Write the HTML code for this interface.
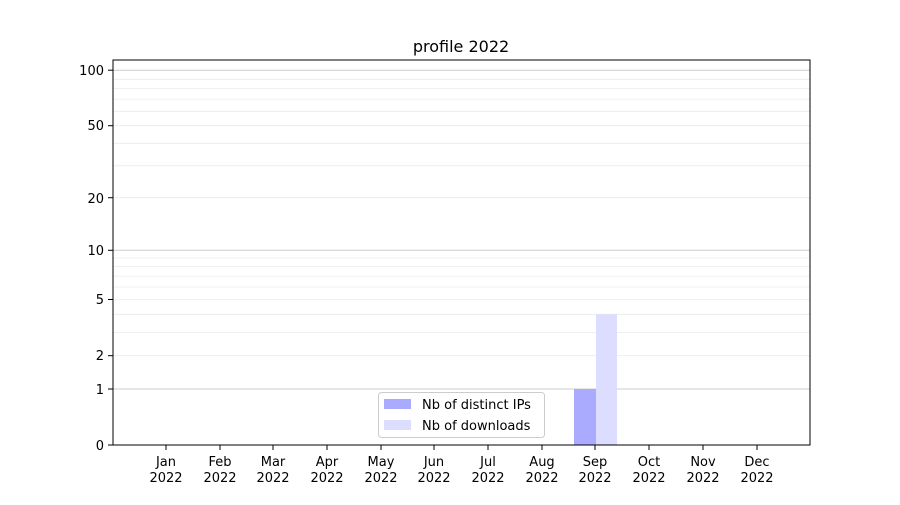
<!DOCTYPE html>
<html><head><meta charset="utf-8"><style>
body{margin:0;background:#fff}
svg text{font-family:"DejaVu Sans","Liberation Sans",sans-serif;font-size:13px;fill:#000}
</style></head><body>
<svg width="900" height="500" xmlns="http://www.w3.org/2000/svg">
<rect width="900" height="500" fill="#fff"/>
<g stroke="#ebebeb" stroke-width="0.8">
<line x1="113" x2="810" y1="355.7" y2="355.7"/>
<line x1="113" x2="810" y1="332.4" y2="332.4"/>
<line x1="113" x2="810" y1="314.3" y2="314.3"/>
<line x1="113" x2="810" y1="299.5" y2="299.5"/>
<line x1="113" x2="810" y1="287.0" y2="287.0"/>
<line x1="113" x2="810" y1="276.1" y2="276.1"/>
<line x1="113" x2="810" y1="266.6" y2="266.6"/>
<line x1="113" x2="810" y1="258.0" y2="258.0"/>
<line x1="113" x2="810" y1="197.7" y2="197.7"/>
<line x1="113" x2="810" y1="165.8" y2="165.8"/>
<line x1="113" x2="810" y1="143.3" y2="143.3"/>
<line x1="113" x2="810" y1="125.7" y2="125.7"/>
<line x1="113" x2="810" y1="111.3" y2="111.3"/>
<line x1="113" x2="810" y1="99.1" y2="99.1"/>
<line x1="113" x2="810" y1="88.6" y2="88.6"/>
<line x1="113" x2="810" y1="79.3" y2="79.3"/>
</g>
<g stroke="#cccccc" stroke-width="1">
<line x1="113" x2="810" y1="389" y2="389"/>
<line x1="113" x2="810" y1="250.3" y2="250.3"/>
<line x1="113" x2="810" y1="70.2" y2="70.2"/>
</g>
<rect x="574" y="389" width="22" height="56" fill="#aaaaff"/>
<rect x="596" y="314.3" width="21" height="130.7" fill="#ddddff"/>
<rect x="113" y="60" width="697" height="385" fill="none" stroke="#000" stroke-width="1"/>
<g stroke="#000">
<line x1="108" x2="113" y1="445" y2="445"/><line x1="108" x2="113" y1="389" y2="389"/>
<line x1="108" x2="113" y1="355.7" y2="355.7"/><line x1="108" x2="113" y1="299.5" y2="299.5"/>
<line x1="108" x2="113" y1="250.3" y2="250.3"/><line x1="108" x2="113" y1="197.7" y2="197.7"/>
<line x1="108" x2="113" y1="125.7" y2="125.7"/><line x1="108" x2="113" y1="70.2" y2="70.2"/>
</g>
<g text-anchor="end">
<text x="104" y="450">0</text><text x="104" y="394">1</text><text x="104" y="360">2</text>
<text x="104" y="304">5</text><text x="104" y="255">10</text><text x="104" y="203">20</text>
<text x="104" y="130">50</text><text x="104" y="75">100</text>
</g>
<g stroke="#000">
<line x1="166" x2="166" y1="445" y2="450"/><line x1="220" x2="220" y1="445" y2="450"/>
<line x1="273" x2="273" y1="445" y2="450"/><line x1="327" x2="327" y1="445" y2="450"/>
<line x1="381" x2="381" y1="445" y2="450"/><line x1="434" x2="434" y1="445" y2="450"/>
<line x1="488" x2="488" y1="445" y2="450"/><line x1="542" x2="542" y1="445" y2="450"/>
<line x1="595" x2="595" y1="445" y2="450"/><line x1="649" x2="649" y1="445" y2="450"/>
<line x1="703" x2="703" y1="445" y2="450"/><line x1="757" x2="757" y1="445" y2="450"/>
</g>
<g text-anchor="middle">
<text x="166" y="466">Jan</text><text x="166" y="482">2022</text>
<text x="220" y="466">Feb</text><text x="220" y="482">2022</text>
<text x="273" y="466">Mar</text><text x="273" y="482">2022</text>
<text x="327" y="466">Apr</text><text x="327" y="482">2022</text>
<text x="381" y="466">May</text><text x="381" y="482">2022</text>
<text x="434" y="466">Jun</text><text x="434" y="482">2022</text>
<text x="488" y="466">Jul</text><text x="488" y="482">2022</text>
<text x="542" y="466">Aug</text><text x="542" y="482">2022</text>
<text x="595" y="466">Sep</text><text x="595" y="482">2022</text>
<text x="649" y="466">Oct</text><text x="649" y="482">2022</text>
<text x="703" y="466">Nov</text><text x="703" y="482">2022</text>
<text x="757" y="466">Dec</text><text x="757" y="482">2022</text>
<text x="461" y="52" style="font-size:16px">profile 2022</text>
</g>
<rect x="378.5" y="392.5" width="166" height="45" rx="3" fill="#fff" fill-opacity="0.8" stroke="#cccccc"/>
<rect x="384" y="399" width="27" height="10" fill="#aaaaff"/>
<rect x="384" y="420" width="27" height="10" fill="#ddddff"/>
<text x="422" y="409">Nb of distinct IPs</text>
<text x="422" y="430">Nb of downloads</text>
</svg>
</body></html>
